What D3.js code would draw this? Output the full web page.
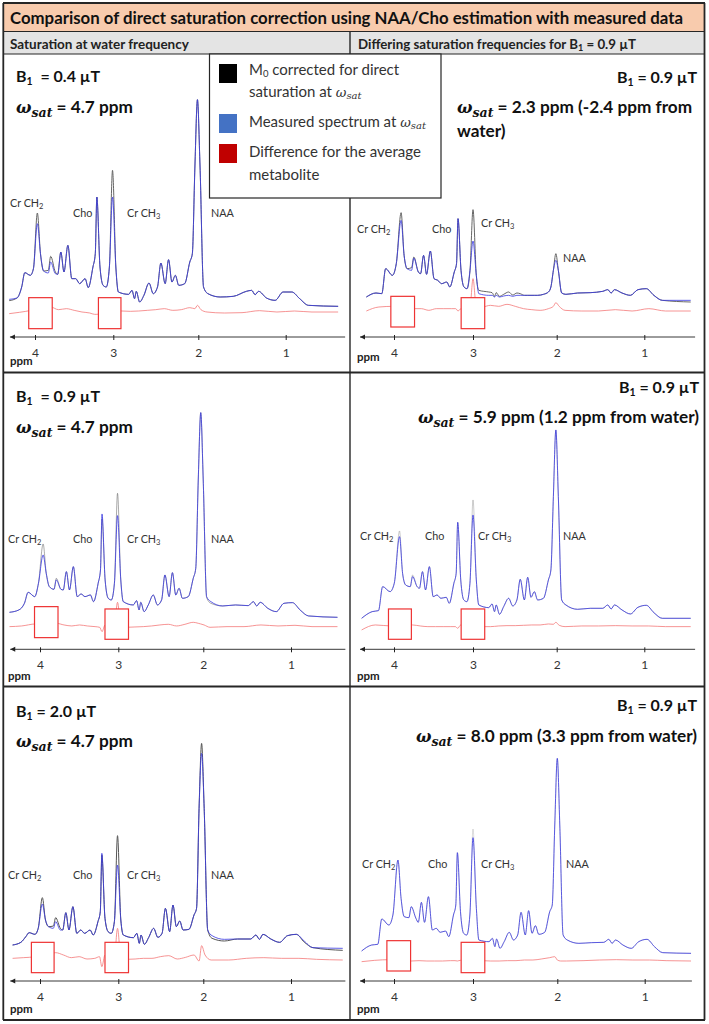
<!DOCTYPE html>
<html lang="en">
<head>
<meta charset="UTF-8">
<title>Direct saturation correction</title>
<script src="https://cdnjs.cloudflare.com/ajax/libs/d3/7.8.5/d3.min.js"></script>
<style>
    body { margin: 0; background: #fff; }
    svg { display: block; font-family: Lato, sans-serif; }
    .math { font-family: "DejaVu Serif", serif; font-style: italic; }
</style>
</head>
<body>
<svg id="fig" width="709" height="1024"></svg>
<script>
// shared ppm knots of the spectrum (peaks and valleys)
const ppmKnots = [4.33,4.23,4.17,4.13,4.06, 4.02,3.97,3.93,3.89,3.83, 3.80,3.74,3.71,3.67,3.63, 3.58,3.53,3.48,3.43,3.36,
    3.32,3.26,3.23,3.21,3.17, 3.13,3.09,3.05,3.01,2.97, 2.94,2.82,2.78,2.75,2.73, 2.69,2.64,2.58,2.53,2.48,
    2.44,2.39,2.35,2.31,2.27, 2.23,2.16,2.10,2.07,2.04, 2.01,1.98,1.94,1.89,1.75, 1.60,1.45,1.39,1.35,1.31,
    1.22,1.12,1.03,0.93,0.84, 0.74,0.40];

// measured spectrum, intensity in a.u. above the axis
const measuredA = [113,117,150,193,185, 205,340,250,198,192, 225,190,188,255,195, 275,175,175,160,175,
    148,210,250,420,210, 155,150,210,420,210, 135,128,140,115,137, 105,125,162,130,150,
    222,160,232,165,185, 155,160,225,250,510, 712,510,150,130,120, 122,137,140,127,137,
    117,110,135,135,115, 95,92];
const measuredB = [111,118,138,171,158, 198,283,228,188,180, 208,180,178,233,178, 248,158,166,158,163,
    143,198,238,406,208, 153,148,198,401,208, 143,133,146,118,141, 113,133,163,133,148,
    223,158,230,163,183, 153,158,213,243,508, 710,508,158,143,130, 133,131,143,130,141,
    123,113,138,140,118, 100,96];
const measuredC = [108,116,133,145,140, 158,231,183,163,158, 178,153,153,205,153, 223,143,153,143,153,
    138,178,208,383,188, 148,143,178,348,183, 138,130,143,113,138, 110,130,158,131,143,
    218,148,228,163,180, 153,155,198,218,518, 683,518,153,136,125, 126,126,138,125,140,
    126,116,136,140,120, 100,98];
const measuredD = [120,132,130,205,185, 220,350,245,205,200, 237,195,190,245,188, 258,175,170,160,165,
    150,195,220,355,200, 150,145,200,288,185, 130,125,125,120,125, 120,123,125,122,125,
    125,125,125,125,125, 125,128,135,150,200, 230,200,132,128,132, 133,137,142,132,142,
    132,125,142,145,125, 110,110];
const measuredE = [93,113,116,188,173, 198,338,228,193,188, 218,188,183,233,178, 248,158,163,153,156,
    138,198,228,381,208, 148,143,198,403,208, 133,125,136,113,133, 105,128,153,130,148,
    210,148,216,156,173, 148,153,208,238,458, 658,458,148,133,120, 123,123,133,121,133,
    118,106,126,132,110, 93,93];
const measuredF = [90,108,110,186,168, 198,363,248,193,190, 223,188,176,236,176, 253,153,158,146,150,
    133,198,228,385,208, 143,138,198,430,218, 123,118,128,103,126, 98,118,146,123,138,
    206,138,211,143,166, 140,146,208,228,468, 668,468,138,123,113, 115,116,125,113,123,
    108,98,118,125,103, 85,83];

// corrected minus measured where the two lines visibly part: [ppm, excess]
const excessA = [[3.97,32],[3.83,8],[3.80,17],[3.74,5],[3.01,80],[4.33,-4]];
const excessB = [[3.97,33],[3.80,5],[3.21,-15],[3.01,67],[1.94,-3],[1.89,-5]];
const excessC = [[3.97,19],[3.83,7],[3.80,12],[3.74,5],[3.21,-5],[3.01,88],[2.01,30],[1.89,-8],[1.75,-5],[0.84,-3],[0.40,-6]];
const excessD = [[3.97,23],[3.83,8],[3.80,3],[3.01,94],[2.94,10],[2.82,10],[2.78,8],[2.75,2],[2.73,8],[2.69,2],[2.64,5],[2.58,10],[2.53,4],[2.48,7],[2.44,5],[2.01,20],[0.40,-5]];
const excessE = [[3.97,17],[3.80,5],[3.01,45]];
const excessF = [[3.01,26]];

// difference trace, sparser knots
const diffPpm = [4.33,4.2,4.05,3.97,3.9,3.8,3.7,3.6,3.5,3.4,3.3,3.24,3.21,3.17,3.1,3.05,3.01,2.97,2.9,2.8,2.7,2.6,2.5,2.4,2.3,2.2,2.1,2.04,2.01,1.97,1.9,1.7,1.5,1.3,1.1,0.9,0.7,0.4];
const diffA = [70,74,80,85,85,90,82,85,80,75,72,68,68,70,75,75,85,78,78,77,78,80,82,85,80,82,88,85,95,82,75,72,73,79,75,78,75,75];
const diffB = [68,70,76,76,76,78,73,70,73,70,68,66,53,73,70,72,141,72,66,67,68,70,73,75,70,75,81,78,76,73,66,68,68,73,70,72,68,68];
const diffC = [68,70,73,80,80,85,78,70,73,66,68,73,43,78,70,72,158,72,65,66,68,68,73,76,66,71,78,60,106,78,63,63,68,70,68,68,65,63];
const diffD = [78,90,92,92,90,85,85,80,85,85,85,85,78,85,85,90,175,90,90,95,92,98,92,85,82,80,85,92,103,92,80,78,78,82,78,85,78,78];
const diffE = [58,73,70,70,70,73,70,68,68,68,68,68,63,73,70,72,100,72,68,68,70,71,71,72,73,73,76,75,81,72,68,70,70,71,70,70,68,68];
const diffF = [58,62,64,64,64,60,61,60,60,60,61,61,60,62,60,60,80,60,61,60,60,61,61,63,63,66,70,73,63,60,60,61,63,64,63,63,61,60];

// ppm read in each panel at: left end, Cr CH2, Cr CH3, NAA, right end
const calibRef = [4.33,3.97,3.01,2.01,0.40];
const tickValues = [4,3,2,1];

const panels = [
    {measured: measuredA, excess: excessA, diff: diffA, calib: [4.33,3.97,3.01,2.01,0.40], corrOpacity: 0.9,
     ticks: [35,113.3,198.3,285.7], axisY: 337, extent: [4.32,0.32],
     boxes: [[4.08,3.78,118,25],[3.19,2.91,118,25]],
     head: [[16,82,"B","1","  = 0.4 µT","start"]], omega: [[16,113,"= 4.7 ppm","start"]],
     labels: [[10,207],[73,217],[127,217],[211,217]], ppm: [10,365]},
    {measured: measuredB, excess: excessB, diff: diffB, calib: [4.39,3.96,3.01,2.03,0.47], corrOpacity: 0.5,
     ticks: [40,118.3,203.3,291], axisY: 649.3, extent: [4.38,0.38],
     boxes: [[4.07,3.77,128,35],[3.17,2.88,121,30]],
     head: [[16,402,"B","1","  = 0.9 µT","start"]], omega: [[16,433,"= 4.7 ppm","start"]],
     labels: [[8,543],[73,543],[127,543],[211,543]], ppm: [8,680]},
    {measured: measuredC, excess: excessC, diff: diffC, calib: [4.35,3.97,3.01,2.02,0.41], corrOpacity: 1,
     ticks: [40,118.3,203.3,291], axisY: 981, extent: [4.38,0.38],
     boxes: [[4.11,3.82,116,25],[3.17,2.88,116,25]],
     head: [[16,717,"B","1"," = 2.0 µT","start"]], omega: [[16,747,"= 4.7 ppm","start"]],
     labels: [[8,879],[73,879],[127,879],[211,879]], ppm: [10,1013]},
    {measured: measuredD, excess: excessD, diff: diffD, calib: [4.35,3.91,3.00,2.01,0.47], corrOpacity: 0.9,
     ticks: [394,473,556.7,644.3], axisY: 337, extent: [4.43,0.42],
     boxes: [[4.04,3.74,122,30],[3.15,2.86,118,25]],
     head: [[697,83,"B","1"," = 0.9 µT","end"]], omega: [[457,113,"= 2.3 ppm (-2.4 ppm from","start"]],
     extra: [457,137,"water)"],
     labels: [[357,233],[432,233],[481,227],[563,262]], ppm: [357,361]},
    {measured: measuredE, excess: excessE, diff: diffE, calib: [4.41,3.93,3.00,2.01,0.47], corrOpacity: 0.3,
     ticks: [394,473,556.7,644.3], axisY: 649.3, extent: [4.43,0.42],
     boxes: [[4.07,3.78,121,30],[3.15,2.86,121,30]],
     head: [[699,393,"B","1"," = 0.9 µT","end"]], omega: [[699,423,"= 5.9 ppm (1.2 ppm from water)","end"]],
     labels: [[360,540],[425,540],[478,540],[563,540]], ppm: [357,680]},
    {measured: measuredF, excess: excessF, diff: diffF, calib: [4.41,3.95,3.00,2.00,0.47], corrOpacity: 0.2,
     ticks: [394,473,557.3,644.7], axisY: 981, extent: [4.43,0.46],
     boxes: [[4.09,3.79,121,30],[3.15,2.86,116,25]],
     head: [[697,711,"B","1"," = 0.9 µT","end"]], omega: [[697,742,"= 8.0 ppm (3.3 ppm from water)","end"]],
     labels: [[362,868],[428,868],[481,868],[566,868]], ppm: [357,1013]}
];

const peakNames = ["Cr CH", "Cho", "Cr CH", "NAA"];
const peakSubs = ["2", "", "3", ""];

const legendItems = [
    {color: "#000000", y: 64},
    {color: "#4472c4", y: 114},
    {color: "#c00000", y: 144}
];

const svg = d3.select("#fig");
const line = "#262626";

// frame and header bands
svg.append("rect").attr("x", 3).attr("y", 4).attr("width", 701).attr("height", 27).attr("fill", "#f8cbad");
svg.append("rect").attr("x", 3).attr("y", 32).attr("width", 701).attr("height", 22).attr("fill", "#e4e4e4");
svg.append("text").attr("x", 10).attr("y", 24).attr("font-size", 16.8).attr("font-weight", 700).attr("fill", "#111")
    .text("Comparison of direct saturation correction using NAA/Cho estimation with measured data");
svg.append("text").attr("x", 10).attr("y", 49).attr("font-size", 13.5).attr("font-weight", 700).attr("fill", "#222")
    .text("Saturation at water frequency");
const sub = svg.append("text").attr("x", 358).attr("y", 49).attr("font-size", 13.3).attr("font-weight", 700).attr("fill", "#222");
sub.append("tspan").text("Differing saturation frequencies for B");
sub.append("tspan").attr("font-size", 9).attr("dy", 2).text("1");
sub.append("tspan").attr("dy", -2).text(" = 0.9 µT");

const ruleV = [3.3, 350, 704.5];
const ruleH = [3, 372.5, 686.5, 1020];
ruleH.forEach(d => svg.append("line").attr("x1", 3).attr("x2", 705).attr("y1", d).attr("y2", d).attr("stroke", line).attr("stroke-width", 1.8));
ruleV.forEach((d, i) => svg.append("line").attr("x1", d).attr("x2", d).attr("y1", i === 1 ? 31.5 : 3).attr("y2", 1020).attr("stroke", line).attr("stroke-width", i === 1 ? 1.4 : 1.8));
[31.5, 54].forEach(d => svg.append("line").attr("x1", 3).attr("x2", 705).attr("y1", d).attr("y2", d).attr("stroke", line).attr("stroke-width", 1));

const spectrumLine = (x, y) => d3.line().x(d => x(d[0])).y(d => y(d[1])).curve(d3.curveMonotoneX);

function addOmega(sel, item) {
    const t = sel.append("text").attr("x", item[0]).attr("y", item[1]).attr("text-anchor", item[3])
        .attr("font-size", 17.2).attr("font-weight", 700).attr("fill", "#111");
    t.append("tspan").attr("class", "math").attr("font-size", 16.3).text("ω");
    t.append("tspan").attr("class", "math").attr("font-size", 12.5).attr("dy", 3.5).text("sat");
    t.append("tspan").attr("dy", -3.5).text(" " + item[2]);
}

panels.forEach(p => {
    const g = svg.append("g");
    const x = d3.scaleLinear().domain(tickValues).range(p.ticks);
    const y = d3.scaleLinear().domain([0, 1000]).range([p.axisY, p.axisY - 1000 / 3]);
    const calib = d3.scaleLinear().domain(calibRef).range(p.calib);
    const xs = d => x(calib(d));
    const path = spectrumLine(xs, y);

    const excess = new Map(p.excess);
    const corrected = ppmKnots.map((d, i) => [d, p.measured[i] + (excess.get(d) || 0)]);
    const measured = ppmKnots.map((d, i) => [d, p.measured[i]]);
    const difference = diffPpm.map((d, i) => [d, p.diff[i]]);

    g.append("path").attr("d", path(corrected)).attr("fill", "none").attr("stroke", "#555").attr("stroke-opacity", p.corrOpacity).attr("stroke-width", 1);
    g.append("path").attr("d", path(measured)).attr("fill", "none").attr("stroke", "#3c3ce0").attr("stroke-opacity", 0.82).attr("stroke-width", 1);
    g.append("path").attr("d", path(difference)).attr("fill", "none").attr("stroke", "#f47878").attr("stroke-width", 0.8);

    g.selectAll(".box").data(p.boxes).join("rect")
        .attr("x", d => x(d[0])).attr("y", d => y(d[2]))
        .attr("width", d => x(d[1]) - x(d[0])).attr("height", d => y(d[3]) - y(d[2]))
        .attr("fill", "#fff").attr("stroke", "#ee3333").attr("stroke-width", 1.2);

    // ppm axis with arrow at the left end
    const axis = g.append("g").attr("transform", `translate(0,${p.axisY})`)
        .call(d3.axisBottom(x).tickValues(tickValues).tickFormat(d3.format("d")).tickSize(3).tickPadding(8));
    axis.select(".domain").remove();
    axis.selectAll(".tick line").attr("y1", -2).attr("stroke", "#222");
    axis.selectAll(".tick text").attr("font-size", 12).attr("font-family", "Lato, sans-serif").attr("fill", "#333");
    const x0 = x(p.extent[0]), x1 = x(p.extent[1]);
    axis.append("line").attr("x1", x0).attr("x2", x1).attr("stroke", "#222").attr("stroke-width", 0.9);
    axis.append("path").attr("d", `M${x0},0l5,-2.5v5z`).attr("fill", "#222");

    g.append("text").attr("x", p.ppm[0]).attr("y", p.ppm[1]).attr("font-size", 11.5).attr("font-weight", 700).attr("fill", "#222").text("ppm");

    p.labels.forEach((d, i) => {
        const t = g.append("text").attr("x", d[0]).attr("y", d[1]).attr("font-size", 10.8).attr("fill", "#333");
        t.append("tspan").text(peakNames[i]);
        if (peakSubs[i]) t.append("tspan").attr("font-size", 7.5).attr("dy", 2).text(peakSubs[i]);
    });

    p.head.forEach(d => {
        const t = g.append("text").attr("x", d[0]).attr("y", d[1]).attr("text-anchor", d[5])
            .attr("font-size", 16).attr("font-weight", 700).attr("fill", "#111").attr("xml:space", "preserve");
        t.append("tspan").text(d[2]);
        t.append("tspan").attr("font-size", 10.5).attr("dy", 3).text(d[3]);
        t.append("tspan").attr("dy", -3).text(d[4]);
    });
    p.omega.forEach(d => addOmega(g, d));
    if (p.extra) g.append("text").attr("x", p.extra[0]).attr("y", p.extra[1]).attr("font-size", 17.2)
        .attr("font-weight", 700).attr("fill", "#111").text(p.extra[2]);
});

// legend
const leg = svg.append("g");
leg.append("rect").attr("x", 209.5).attr("y", 54).attr("width", 231.5).attr("height", 144)
    .attr("fill", "#fff").attr("stroke", line).attr("stroke-width", 1.2);
leg.selectAll(".swatch").data(legendItems).join("rect")
    .attr("x", 219).attr("y", d => d.y).attr("width", 18).attr("height", 19).attr("fill", d => d.color);
function legendText(yPos) {
    return leg.append("text").attr("x", 249).attr("y", yPos).attr("font-size", 15).attr("fill", "#333");
}
const l1 = legendText(75);
l1.append("tspan").text("M");
l1.append("tspan").attr("font-size", 9.5).attr("dy", 2).text("0");
l1.append("tspan").attr("dy", -2).text(" corrected for direct");
const l2 = legendText(97);
l2.append("tspan").text("saturation at ");
l2.append("tspan").attr("class", "math").attr("font-size", 13).text("ω");
l2.append("tspan").attr("class", "math").attr("font-size", 10).attr("dy", 2).text("sat");
const l3 = legendText(127);
l3.append("tspan").text("Measured spectrum at ");
l3.append("tspan").attr("class", "math").attr("font-size", 13).text("ω");
l3.append("tspan").attr("class", "math").attr("font-size", 10).attr("dy", 2).text("sat");
legendText(157).text("Difference for the average");
legendText(180).text("metabolite");
</script>
</body>
</html>
